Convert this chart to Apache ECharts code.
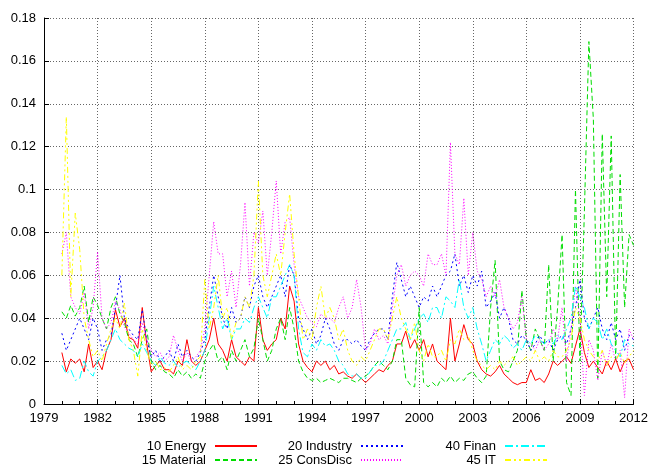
<!DOCTYPE html>
<html>
<head>
<meta charset="UTF-8">
<title>Sector series</title>
<style>
    html,body{margin:0;padding:0;background:#fff;}
    #chart{width:651px;height:467px;}
</style>
</head>
<body>
<div id="chart"></div>
<script src="https://cdn.jsdelivr.net/npm/echarts@6/dist/echarts.min.js"></script>
<script>
    // quarterly readings, 1980.00 .. 2012.00
    let quarters=[];
    for(let i=0;i<=128;i++){quarters.push(1980+i/4);}

    let names=['10 Energy','15 Material','20 Industry','25 ConsDisc','40 Finan','45 IT'];

    let energy=[
        0.024,0.015,0.021,0.019, 0.021,0.015,0.028,0.017, 0.020,0.016,0.025,0.030, 0.044,0.036,0.040,0.031,
        0.030,0.026,0.045,0.028, 0.015,0.018,0.020,0.016, 0.016,0.014,0.020,0.018, 0.030,0.020,0.018,0.020,
        0.025,0.030,0.040,0.028, 0.025,0.020,0.030,0.022, 0.020,0.018,0.022,0.020, 0.045,0.030,0.025,0.028,
        0.030,0.040,0.035,0.055, 0.048,0.028,0.020,0.017, 0.015,0.020,0.018,0.020, 0.016,0.018,0.014,0.015,
        0.013,0.012,0.014,0.012, 0.010,0.012,0.014,0.016, 0.015,0.018,0.020,0.028, 0.028,0.034,0.026,0.030,
        0.025,0.030,0.022,0.028, 0.020,0.018,0.016,0.040, 0.020,0.028,0.037,0.030, 0.028,0.020,0.016,0.014,
        0.013,0.015,0.018,0.014, 0.012,0.010,0.009,0.010, 0.010,0.016,0.011,0.012, 0.010,0.014,0.020,0.018,
        0.020,0.022,0.019,0.027, 0.035,0.024,0.017,0.020, 0.017,0.014,0.020,0.016, 0.021,0.015,0.020,0.021,
        0.016
    ];
    let material=[
        0.043,0.040,0.046,0.041, 0.045,0.055,0.038,0.050, 0.046,0.040,0.035,0.045, 0.050,0.042,0.038,0.030,
        0.028,0.022,0.030,0.035, 0.020,0.016,0.018,0.015, 0.014,0.012,0.016,0.013, 0.015,0.012,0.014,0.012,
        0.020,0.025,0.028,0.020, 0.022,0.016,0.025,0.020, 0.025,0.030,0.022,0.026, 0.040,0.030,0.020,0.025,
        0.035,0.040,0.030,0.045, 0.035,0.020,0.015,0.012, 0.011,0.012,0.010,0.011, 0.012,0.011,0.010,0.012,
        0.012,0.011,0.010,0.012, 0.013,0.015,0.018,0.020, 0.018,0.016,0.020,0.030, 0.030,0.012,0.009,0.008,
        0.045,0.010,0.008,0.010, 0.008,0.012,0.010,0.013, 0.010,0.012,0.011,0.014, 0.015,0.012,0.010,0.013,
        0.045,0.067,0.020,0.016, 0.015,0.020,0.025,0.053, 0.030,0.025,0.035,0.030, 0.025,0.065,0.020,0.045,
        0.079,0.010,0.004,0.100, 0.020,0.090,0.169,0.133, 0.012,0.126,0.050,0.125, 0.021,0.107,0.045,0.079,
        0.074
    ];
    let industry=[
        0.033,0.025,0.030,0.035, 0.040,0.035,0.030,0.040, 0.035,0.025,0.030,0.032, 0.045,0.060,0.040,0.035,
        0.032,0.030,0.044,0.030, 0.022,0.025,0.020,0.022, 0.025,0.020,0.028,0.022, 0.025,0.022,0.020,0.024,
        0.030,0.045,0.060,0.050, 0.040,0.035,0.045,0.038, 0.040,0.050,0.045,0.055, 0.060,0.050,0.045,0.050,
        0.055,0.060,0.050,0.065, 0.060,0.040,0.035,0.030, 0.035,0.028,0.032,0.040, 0.035,0.028,0.025,0.030,
        0.030,0.028,0.030,0.027, 0.025,0.030,0.033,0.035, 0.035,0.030,0.050,0.066, 0.058,0.050,0.055,0.050,
        0.045,0.050,0.048,0.055, 0.050,0.055,0.060,0.062, 0.070,0.055,0.060,0.052, 0.060,0.055,0.062,0.045,
        0.048,0.052,0.040,0.045, 0.040,0.030,0.028,0.032, 0.030,0.025,0.028,0.032, 0.028,0.030,0.025,0.030,
        0.032,0.028,0.035,0.045, 0.058,0.040,0.035,0.040, 0.045,0.035,0.030,0.038, 0.030,0.035,0.025,0.032,
        0.030
    ];
    let consDisc=[
        0.070,0.080,0.050,0.045, 0.042,0.052,0.035,0.045, 0.071,0.040,0.035,0.038, 0.048,0.044,0.036,0.033,
        0.030,0.028,0.038,0.030, 0.025,0.022,0.024,0.020, 0.022,0.032,0.025,0.020, 0.024,0.020,0.022,0.025,
        0.035,0.060,0.085,0.070, 0.070,0.050,0.062,0.045, 0.065,0.094,0.055,0.080, 0.075,0.090,0.060,0.080,
        0.104,0.070,0.085,0.087, 0.065,0.050,0.045,0.040, 0.038,0.036,0.042,0.040, 0.040,0.038,0.045,0.050,
        0.040,0.045,0.058,0.045, 0.025,0.028,0.035,0.030, 0.032,0.028,0.045,0.060, 0.065,0.055,0.060,0.062,
        0.060,0.055,0.070,0.065, 0.065,0.070,0.060,0.122, 0.070,0.065,0.096,0.060, 0.080,0.062,0.058,0.050,
        0.055,0.050,0.058,0.045, 0.040,0.035,0.038,0.050, 0.030,0.028,0.025,0.030, 0.025,0.028,0.035,0.030,
        0.045,0.020,0.035,0.055, 0.040,0.004,0.030,0.025, 0.011,0.025,0.018,0.028, 0.020,0.025,0.003,0.035,
        0.030
    ];
    let finan=[
        0.018,0.014,0.016,0.011, 0.012,0.020,0.015,0.013, 0.020,0.022,0.025,0.030, 0.035,0.030,0.028,0.026,
        0.025,0.022,0.028,0.024, 0.020,0.018,0.022,0.019, 0.018,0.020,0.017,0.019, 0.020,0.018,0.016,0.020,
        0.025,0.040,0.055,0.045, 0.035,0.040,0.030,0.035, 0.035,0.040,0.038,0.045, 0.050,0.045,0.040,0.050,
        0.050,0.055,0.060,0.065, 0.060,0.035,0.024,0.022, 0.028,0.025,0.030,0.027, 0.028,0.025,0.020,0.018,
        0.014,0.013,0.014,0.012, 0.012,0.015,0.018,0.018, 0.020,0.025,0.030,0.035, 0.035,0.038,0.030,0.035,
        0.040,0.042,0.038,0.045, 0.045,0.040,0.050,0.048, 0.045,0.058,0.045,0.040, 0.045,0.035,0.028,0.020,
        0.025,0.030,0.028,0.032, 0.030,0.026,0.028,0.025, 0.030,0.028,0.032,0.030, 0.028,0.030,0.028,0.032,
        0.030,0.035,0.040,0.055, 0.050,0.045,0.035,0.040, 0.038,0.030,0.035,0.028, 0.025,0.022,0.030,0.028,
        0.027
    ];
    let it=[
        0.060,0.134,0.050,0.089, 0.072,0.040,0.030,0.022, 0.025,0.020,0.028,0.035, 0.040,0.035,0.047,0.030,
        0.025,0.013,0.035,0.025, 0.018,0.020,0.016,0.017, 0.015,0.018,0.022,0.016, 0.018,0.016,0.020,0.022,
        0.058,0.035,0.045,0.060, 0.040,0.045,0.030,0.038, 0.040,0.050,0.045,0.060, 0.104,0.060,0.050,0.060,
        0.070,0.060,0.080,0.098, 0.070,0.050,0.030,0.035, 0.030,0.045,0.055,0.040, 0.045,0.040,0.030,0.035,
        0.025,0.020,0.018,0.022, 0.020,0.025,0.030,0.035, 0.035,0.030,0.040,0.050, 0.040,0.035,0.030,0.038,
        0.025,0.020,0.028,0.022, 0.022,0.025,0.020,0.030, 0.028,0.035,0.030,0.032, 0.025,0.020,0.018,0.016,
        0.018,0.016,0.020,0.018, 0.020,0.022,0.018,0.020, 0.022,0.020,0.025,0.020, 0.022,0.020,0.025,0.022,
        0.022,0.025,0.030,0.045, 0.040,0.030,0.025,0.022, 0.020,0.025,0.018,0.022, 0.020,0.024,0.019,0.022,
        0.025
    ];

    let values=[energy,material,industry,consDisc,finan,it];
    let colors=['#ff0000','#00dd00','#0000ff','#ff00ff','#00ffff','#ffff00'];
    let dashes=['solid',[5,3],[2,3],[1,2],[8,3,2,3],[6,3,2,3,2,3]];

    let font='Liberation Sans';
    let series=[];
    for(let k=0;k<names.length;k++){
        series.push({
            name:names[k],
            type:'line',
            showSymbol:false,
            symbol:'none',
            data:quarters.map((t,i)=>[t,values[k][i]]),
            lineStyle:{color:colors[k],width:1,type:dashes[k]},
            itemStyle:{color:colors[k]}
        });
    }

    function legendCol(items,right){
        return {
            data:items,
            orient:'vertical',
            align:'right',
            right:right,
            top:439,
            itemWidth:42,
            itemHeight:8,
            itemGap:0,
            padding:0,
            itemStyle:{opacity:0},
            textStyle:{fontFamily:font,fontSize:13,color:'#000',lineHeight:14,padding:[0,4,0,0]}
        };
    }

    let chart=echarts.init(document.getElementById('chart'));
    chart.setOption({
        animation:false,
        backgroundColor:'#fff',
        grid:{left:44,right:17,top:18,bottom:63},
        legend:[
            legendCol([names[0],names[1]],393),
            legendCol([names[2],names[3]],247),
            legendCol([names[4],names[5]],103)
        ],
        xAxis:{
            type:'value',min:1979,max:2012,interval:3,
            axisLine:{lineStyle:{color:'#000'}},
            axisTick:{inside:true,length:5,lineStyle:{color:'#000'}},
            minorTick:{show:true,splitNumber:3,length:3,lineStyle:{color:'#000'}},
            axisLabel:{color:'#000',fontFamily:font,fontSize:13,margin:8,formatter:v=>String(v)},
            splitLine:{show:true,lineStyle:{color:'#666',type:[1,2]}}
        },
        yAxis:{
            type:'value',min:0,max:0.18,interval:0.02,
            axisLine:{show:true,lineStyle:{color:'#000'}},
            axisTick:{show:true,inside:true,length:5,lineStyle:{color:'#000'}},
            axisLabel:{color:'#000',fontFamily:font,fontSize:13,margin:8,formatter:v=>String(+v.toFixed(2))},
            splitLine:{show:true,lineStyle:{color:'#666',type:[1,2]}}
        },
        series:series
    });
</script>
</body>
</html>
